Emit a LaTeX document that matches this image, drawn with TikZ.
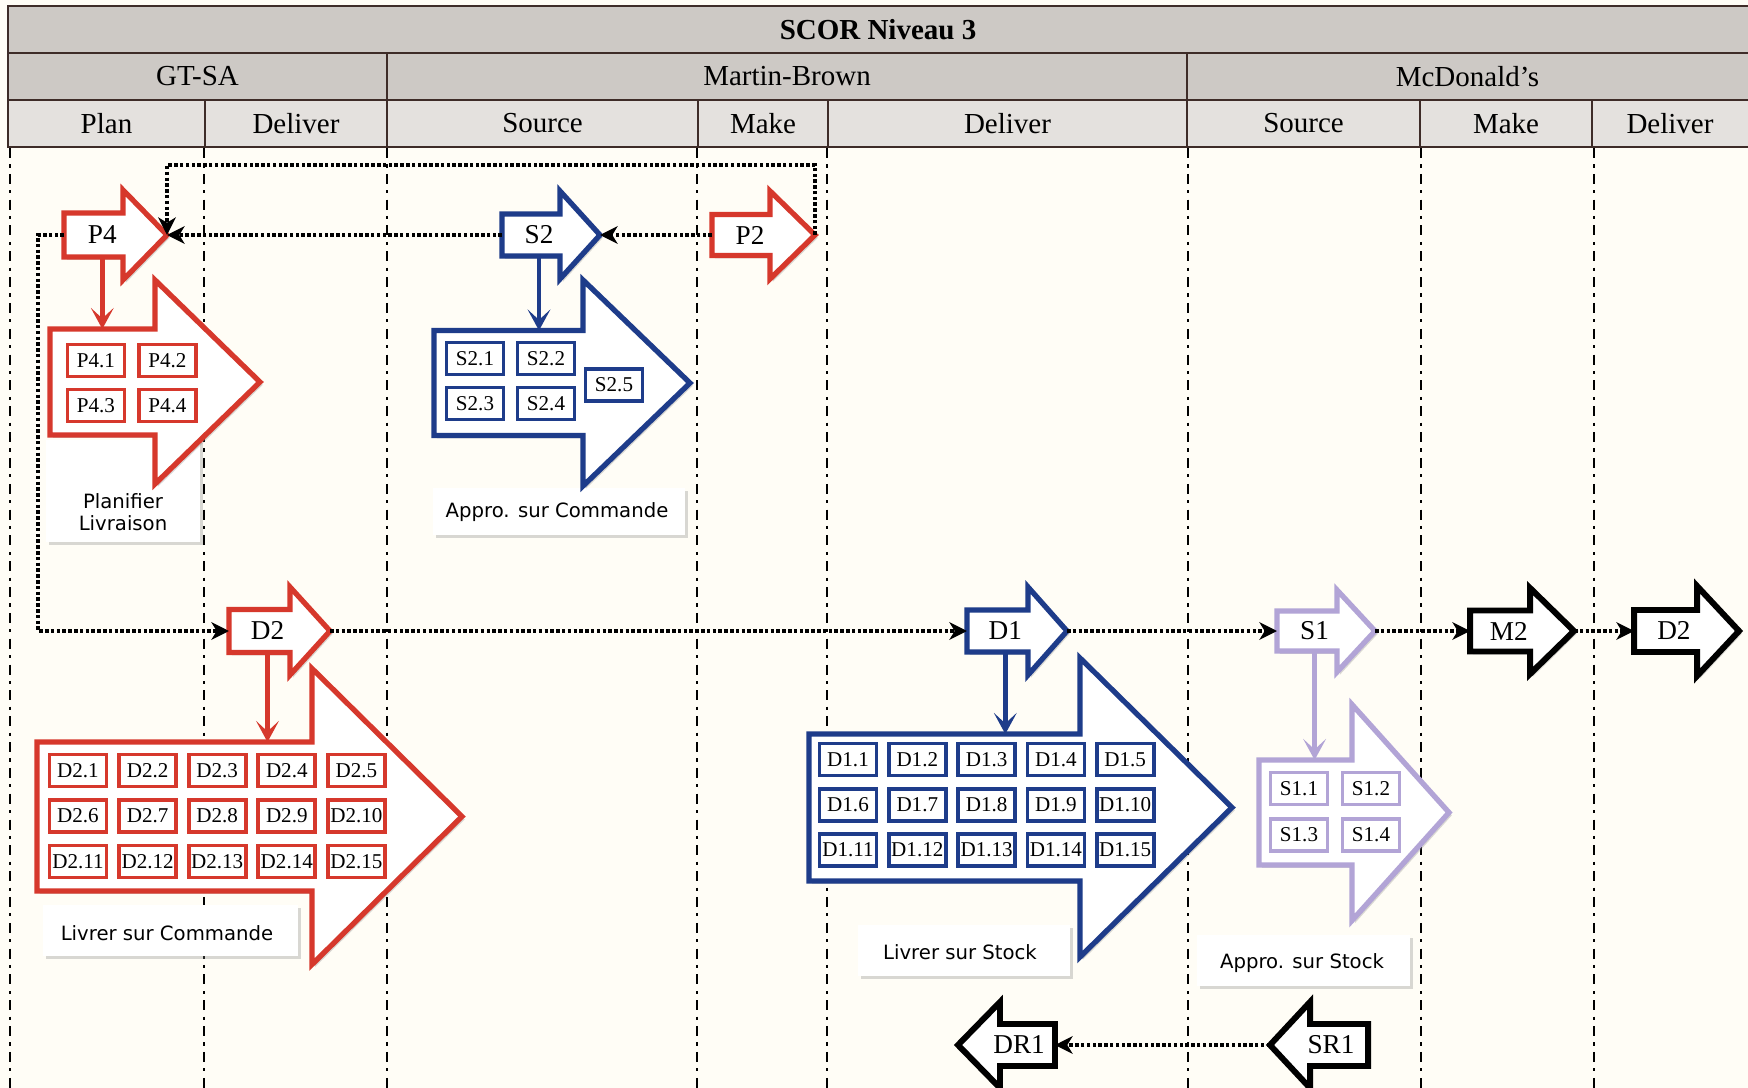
\documentclass[tikz,border=0pt]{standalone}
\usepackage{fontspec}
\setmainfont{Liberation Serif}
\newfontfamily\capfont{DejaVu Sans}
\usetikzlibrary{arrows.meta, positioning, shadows, calc}

\definecolor{scorred}{RGB}{214,56,44}
\definecolor{scorblue}{RGB}{30,60,138}
\definecolor{scorlav}{RGB}{178,164,214}
\definecolor{paper}{RGB}{255,253,246}
\definecolor{hdrdark}{RGB}{205,201,197}
\definecolor{hdrlight}{RGB}{228,225,222}
\definecolor{hdrline}{RGB}{62,44,40}

\tikzset{
  lane/.style={line width=1.5pt, dash pattern=on 5.7pt off 3.6pt on 1.8pt off 3.6pt},
  hdr/.style={fill=hdrdark, draw=hdrline, line width=1.1pt},
  subhdr/.style={fill=hdrlight, draw=hdrline, line width=1.1pt},
  hdrtext/.style={font=\fontsize{16.5}{18}\selectfont, inner sep=0pt},
  block/.style={fill=white, line width=3pt, line join=miter, drop shadow={shadow xshift=1.6pt, shadow yshift=-1.6pt, opacity=0.3}},
  tag/.style={font=\fontsize{15.5}{17}\selectfont, inner sep=0pt},
  task/.style={draw=#1, fill=white, line width=2.1pt, inner sep=0pt, minimum width=1.14cm, minimum height=0.64cm, font=\fontsize{12}{13}\selectfont},
  note/.style={fill=white, drop shadow={shadow xshift=1.8pt, shadow yshift=-1.8pt, opacity=0.3}},
  captxt/.style={font=\capfont\fontsize{11.2}{12.5}\selectfont, align=center, inner sep=0pt},
  flow/.style={line width=2.2pt, dash pattern=on 2pt off 1.3pt, -{Stealth[length=10pt, width=10pt, inset=3pt]}},
  feed/.style={draw=#1, line width=2.6pt, -{Stealth[length=12pt, width=13pt, inset=6pt]}},
}

% #1 name, #2 options, #3 tail, #4 head base, #5 tip, #6 mid y, #7 half body, #8 half head, #9 label
\newcommand{\blockarrow}[9]{%
  \draw[block, #2] (#3,#6-#7) -- (#4,#6-#7) -- (#4,#6-#8) -- (#5,#6) -- (#4,#6+#8) -- (#4,#6+#7) -- (#3,#6+#7) -- cycle;
  \coordinate (#1-tail) at (#3,#6);
  \coordinate (#1-tip) at (#5,#6);
  \node[tag] (#1) at ({0.5*(#3+#4)+0.2*(#5-#4)},#6) {#9};
  \coordinate (#1-bot) at ({0.5*(#3+#4)+0.2*(#5-#4)},#6+#7);
}
\newcommand{\bigarrow}[8]{%
  \draw[block, #2] (#3,#6-#7) -- (#4,#6-#7) -- (#4,#6-#8) -- (#5,#6) -- (#4,#6+#8) -- (#4,#6+#7) -- (#3,#6+#7) -- cycle;
  \coordinate (#1-top) at (#3,#6-#7);
}

\begin{document}
\begin{tikzpicture}[x=0.02cm, y=-0.02cm]
\useasboundingbox (0,0) rectangle (1748,1088);
\fill[paper] (0,0) rectangle (1748,1088);
\clip (0,0) rectangle (1748,1088);

% swim lanes
\foreach \x in {10,204,387,697,827,1188,1421,1594}
  \draw[lane] (\x,148) -- (\x,1088);

% header
\draw[hdr] (8,6) rectangle (1760,53);
\draw[hdr] (8,53) rectangle (387,100);
\draw[hdr] (387,53) rectangle (1187,100);
\draw[hdr] (1187,53) rectangle (1760,100);
\foreach \a/\b in {8/205,205/387,387/698,698/828,828/1187,1187/1420,1420/1592,1592/1760}
  \draw[subhdr] (\a,100) rectangle (\b,147);
\node[hdrtext] (scor) at (878,29.5) {\bfseries SCOR Niveau 3};
\node[hdrtext] (gtsa) at (197.5,76.5) {GT-SA};
\node[hdrtext] (martin) at (787,76.5) {Martin-Brown};
\node[hdrtext] (mcdo) at (1467.5,76.5) {McDonald’s};
\node[hdrtext] (planA) at (106.5,123.5) {Plan};
\node[hdrtext] (delA) at (296,123.5) {Deliver};
\node[hdrtext] (srcB) at (542.5,123.5) {Source};
\node[hdrtext] (makeB) at (763,123.5) {Make};
\node[hdrtext] (delB) at (1007.5,123.5) {Deliver};
\node[hdrtext] (srcC) at (1303.5,123.5) {Source};
\node[hdrtext] (makeC) at (1506,123.5) {Make};
\node[hdrtext] (delC) at (1670,123.5) {Deliver};

% caption boxes
\path[note] (46,440) rectangle (200,542);
\path[note] (433,488) rectangle (685,535);
\path[note] (43,905) rectangle (298,956);
\path[note] (858,925) rectangle (1070,976);
\path[note] (1197,935) rectangle (1410,986);
\node[captxt] (capP4) at (123,512) {Planifier\\Livraison};
\node[captxt] (capS2) at (557,512) {Appro. sur Commande};
\node[captxt] (capD2) at (167,933) {Livrer sur Commande};
\node[captxt] (capD1) at (960,952) {Livrer sur Stock};
\node[captxt] (capS1) at (1302,963) {Appro. sur Stock};

% process blocks
\bigarrow{P4box}{draw=scorred}{50}{155}{260}{382}{53}{102}
\bigarrow{S2box}{draw=scorblue}{434}{583}{690}{383}{52.5}{103}
\bigarrow{D2box}{draw=scorred}{37}{312}{462}{816.5}{74.5}{148}
\bigarrow{D1box}{draw=scorblue}{809}{1080}{1232}{807.5}{73.5}{149.5}
\bigarrow{S1box}{draw=scorlav}{1259}{1352}{1449}{812.5}{52.5}{108}

% processes
\blockarrow{P4}{draw=scorred}{64}{123}{167}{235}{22}{45}{P4}
\blockarrow{S2}{draw=scorblue}{502}{560}{600}{235}{21}{44}{S2}
\blockarrow{P2}{draw=scorred}{712}{770}{815}{235}{20.5}{44}{P2}
\blockarrow{D2}{draw=scorred}{229}{290}{330}{631}{21.5}{44}{D2}
\blockarrow{D1}{draw=scorblue}{967}{1028}{1067}{631}{21}{44}{D1}
\blockarrow{S1}{draw=scorlav}{1277}{1337}{1375}{631}{20}{41}{S1}
\blockarrow{M2}{draw=black, line width=3.4pt}{1470}{1530}{1574}{631}{20.5}{43}{M2}
\blockarrow{D2b}{draw=black, line width=3.4pt}{1634}{1697}{1739}{631}{21}{45}{D2}
\blockarrow{DR1}{draw=black, line width=3.4pt}{1055}{1000}{958}{1045}{21}{43}{DR1}
\blockarrow{SR1}{draw=black, line width=3.4pt}{1368}{1310}{1270}{1045}{21}{43}{SR1}

% elements
\node[task=scorred] (P4-1) at (96,360.5) {P4.1};
\node[task=scorred] (P4-2) at (167.5,360.5) {P4.2};
\node[task=scorred] (P4-3) at (96,405.5) {P4.3};
\node[task=scorred] (P4-4) at (167.5,405.5) {P4.4};
\node[task=scorblue] (S2-1) at (475,358.5) {S2.1};
\node[task=scorblue] (S2-2) at (546,358.5) {S2.2};
\node[task=scorblue] (S2-3) at (475,403.5) {S2.3};
\node[task=scorblue] (S2-4) at (546,403.5) {S2.4};
\node[task=scorblue] (S2-5) at (614,385) {S2.5};
\node[task=scorlav] (S1-1) at (1299,788.5) {S1.1};
\node[task=scorlav] (S1-2) at (1371,788.5) {S1.2};
\node[task=scorlav] (S1-3) at (1299,835) {S1.3};
\node[task=scorlav] (S1-4) at (1371,835) {S1.4};
\foreach \r in {0,1,2}
  \foreach \c in {0,...,4} {
    \pgfmathtruncatemacro{\k}{5*\r+\c+1}
    \node[task=scorred] (D2-\k) at (78+69.6*\c, 770.5+45.5*\r) {D2.\k};
    \node[task=scorblue] (D1-\k) at (848+69.3*\c, 759.5+45.2*\r) {D1.\k};
  }

% decomposition
\draw[feed=scorred] (P4-bot) -- (P4-bot |- P4box-top);
\draw[feed=scorblue] (S2-bot) -- (S2-bot |- S2box-top);
\draw[feed=scorred] (D2-bot) -- (D2-bot |- D2box-top);
\draw[feed=scorblue] (D1-bot) -- (D1-bot |- D1box-top);
\draw[feed=scorlav] (S1-bot) -- (S1-bot |- S1box-top);

% flows
\coordinate (loop) at (500,165);
\coordinate (detour) at (38,400);
\draw[flow] (P2-tail) -- (S2-tip);
\draw[flow] (S2-tail) -- (P4-tip);
\draw[flow] (P2-tip) |- (loop) -| (P4-tip);
\draw[flow] (P4-tail) -| (detour) |- (D2-tail);
\draw[flow] (D2-tip) -- (D1-tail);
\draw[flow] (D1-tip) -- (S1-tail);
\draw[flow] (S1-tip) -- (M2-tail);
\draw[flow] (M2-tip) -- (D2b-tail);
\draw[flow] (SR1-tip) -- (DR1-tail);
\end{tikzpicture}
\end{document}
